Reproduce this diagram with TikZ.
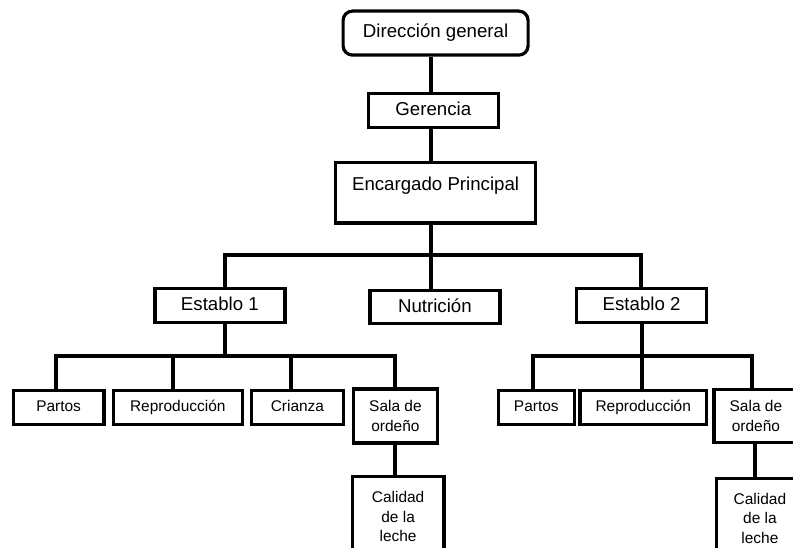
\documentclass[tikz,border=0pt]{standalone}
\usepackage{fontspec}
\setmainfont{Liberation Sans}
\begin{document}
\begin{tikzpicture}[x=0.75pt,y=-0.75pt,
  box/.style={draw=black,line width=2.4pt,fill=white,inner sep=0pt,anchor=north west,align=center},
  big/.style={font=\fontsize{14}{17}\selectfont},
  small/.style={font=\fontsize{11.6}{14.8}\selectfont},
  bigline/.style={big,text height=10pt,text depth=3pt},
  smallline/.style={small,text height=8.5pt,text depth=2.5pt},
  conn/.style={draw=black,line width=2.8pt}]
% page frame and cropping
\useasboundingbox (0,0) rectangle (793,548);
\clip (0,0) rectangle (793,548);
\fill[white] (0,0) rectangle (793,548);

% junction points of the connector lines
\coordinate (jTop) at (431,0);
\coordinate (busA) at (225,255);
\coordinate (busB) at (641,255);
\coordinate (jNut) at (431,255);
\coordinate (busE1L) at (55.7,356);
\coordinate (busE1R) at (395,356);
\coordinate (jE1) at (225,356);
\coordinate (jR1) at (173.3,356);
\coordinate (jC1) at (291,356);
\coordinate (busE2L) at (533.3,356);
\coordinate (busE2R) at (752.3,356);
\coordinate (jE2) at (641.7,356);
\coordinate (jS2) at (755,0);

% top levels
\node[box,bigline,rounded corners=7pt,minimum width=138.75pt,minimum height=33pt] (dir) at (341.5,9.5) {Dirección general};
\node[box,bigline,minimum width=97.5pt,minimum height=25.3pt] (ger) at (366.7,92.3) {Gerencia};
\node[box,big,minimum width=150pt,text height=21.5pt,text depth=24pt] (enc) at (334,160.7) {Encargado Principal};

% second level
\node[box,bigline,minimum width=97.5pt,minimum height=25.3pt] (est1) at (153.3,287.3) {Establo 1};
\node[box,bigline,minimum width=97.5pt,minimum height=24.7pt] (nut) at (368.3,289.3) {Nutrición};
\node[box,bigline,minimum width=97.5pt,minimum height=25.3pt] (est2) at (575,287.3) {Establo 2};

% third level, Establo 1
\node[box,smallline,minimum width=68pt,minimum height=25.5pt] (p1) at (11.7,389.3) {Partos};
\node[box,smallline,minimum width=96.75pt,minimum height=25.5pt] (r1) at (111.7,389.3) {Reproducción};
\node[box,smallline,minimum width=68.75pt,minimum height=25.5pt] (c1) at (250,389.3) {Crianza};
\node[box,small,minimum width=63.2pt,minimum height=40.5pt] (s1) at (351.7,387.5) {Sala de\\ordeño};
\node[box,small,minimum width=68.7pt,minimum height=60pt] (q1) at (350.7,475) {Calidad\\de la\\leche};

% third level, Establo 2
\node[box,smallline,minimum width=57pt,minimum height=25.5pt] (p2) at (496.7,389.3) {Partos};
\node[box,smallline,minimum width=95pt,minimum height=25.5pt] (r2) at (578.3,389.3) {Reproducción};
\node[box,small,minimum width=63pt,minimum height=39.5pt] (s2) at (712.3,388.3) {Sala de\\ordeño};
\node[box,small,minimum width=65pt,minimum height=60pt] (q2) at (715,476.7) {Calidad\\de la\\leche};

% connectors
\draw[conn] (dir.south -| jTop) -- (ger.north -| jTop);
\draw[conn] (ger.south -| jTop) -- (enc.north -| jTop);
\draw[conn] (enc.south -| jTop) -- (jNut);
\draw[conn] (est1.north -| busA) -- (busA) -- (busB) -- (est2.north -| busB);
\draw[conn] (jNut) -- (nut.north -| jNut);

\draw[conn] (est1.south -| jE1) -- (jE1);
\draw[conn] (p1.north -| busE1L) -- (busE1L) -- (busE1R) -- (s1.north -| busE1R);
\draw[conn] (jR1) -- (r1.north -| jR1);
\draw[conn] (jC1) -- (c1.north -| jC1);
\draw[conn] (s1.south -| busE1R) -- (q1.north -| busE1R);

\draw[conn] (est2.south -| jE2) -- (jE2);
\draw[conn] (p2.north -| busE2L) -- (busE2L) -- (busE2R) -- (s2.north -| busE2R);
\draw[conn] (jE2) -- (r2.north -| jE2);
\draw[conn] (s2.south -| jS2) -- (q2.north -| jS2);
\end{tikzpicture}
\end{document}
